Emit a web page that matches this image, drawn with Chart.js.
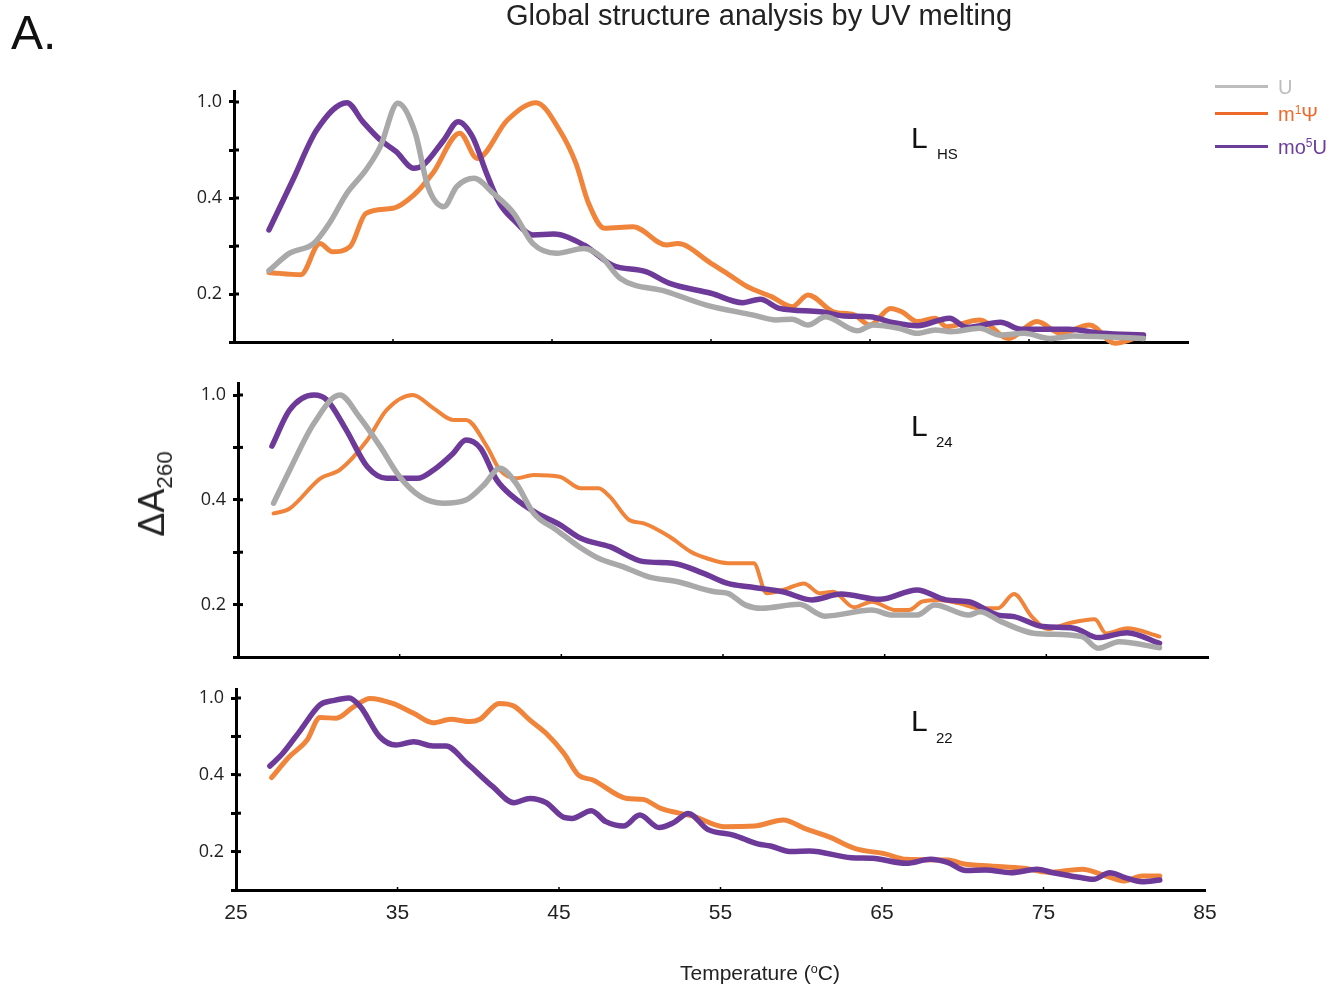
<!DOCTYPE html>
<html>
<head>
<meta charset="utf-8">
<script src="https://cdn.jsdelivr.net/npm/chart.js@4.4.1/dist/chart.umd.min.js"></script>
<style>
  body { margin: 0; background: #fff; }
  #page { position: relative; width: 1333px; height: 989px; overflow: hidden; font-family: "Liberation Sans", Arial, sans-serif; color: #222; }
  canvas { position: absolute; left: 0; top: 0; }
  .txt { position: absolute; line-height: 1; white-space: nowrap; }
  .sup { font-size: 0.6em; position: relative; top: -0.55em; }
  .sub { font-size: 0.62em; position: relative; top: 0.35em; }
  .key { position: absolute; left: 1215px; width: 53px; height: 3px; }
</style>
</head>
<body>
<div id="page">
  <canvas id="pHS" width="1333" height="989"></canvas>
  <canvas id="p24" width="1333" height="989"></canvas>
  <canvas id="p22" width="1333" height="989"></canvas>

  <div class="txt" style="left:11px;top:9px;font-size:48px;color:#111">A.</div>
  <div class="txt" style="left:506px;top:1px;font-size:29px">Global structure analysis by UV melting</div>

  <div class="txt" style="left:152px;top:494px;font-size:36px;transform:translate(-50%,-50%) rotate(-90deg)">ΔA<span class="sub">260</span></div>
  <div class="txt" style="left:680px;top:962px;font-size:21px">Temperature (<span class="sup">o</span>C)</div>

  <div class="txt" style="left:911px;top:123px;font-size:30px;color:#111">L</div>
  <div class="txt" style="left:937px;top:146px;font-size:15px;color:#111">HS</div>
  <div class="txt" style="left:911px;top:411px;font-size:30px;color:#111">L</div>
  <div class="txt" style="left:936px;top:434px;font-size:15px;color:#111">24</div>
  <div class="txt" style="left:911px;top:706px;font-size:30px;color:#111">L</div>
  <div class="txt" style="left:936px;top:730px;font-size:15px;color:#111">22</div>

  <div class="key" style="top:85px;background:#bdbdbd"></div>
  <div class="key" style="top:112px;background:#ee6a2a"></div>
  <div class="key" style="top:145px;background:#6c3e9a"></div>
  <div class="txt" style="left:1278px;top:77px;font-size:20px;color:#bdbdbd">U</div>
  <div class="txt" style="left:1278px;top:104px;font-size:20px;color:#ee6a2a">m<span class="sup">1</span>Ψ</div>
  <div class="txt" style="left:1278px;top:137px;font-size:20px;color:#6c3e9a">mo<span class="sup">5</span>U</div>
</div>
<script>
// temperature (°C), normalised ΔA260
const hsU = [[27.2,.297],[28.5,.37],[30.0,.41],[31.0,.495],[32.1,.62],[33.3,.717],[34.2,.814],[35.3,.995],[36.4,.87],[37.2,.647],
  [38.2,.564],[39.0,.647],[40.1,.682],[41.3,.62],[42.6,.536],[43.8,.41],[45.3,.37],[47.0,.39],[48.1,.355],[49.3,.265],
  [52.2,.21],[54.7,.154],[57.6,.113],[59.1,.092],[60.1,.095],[61.1,.071],[62.2,.105],[64.2,.047],[65.2,.071],[66.8,.057],
  [68.0,.036],[69.1,.05],[70.1,.043],[71.9,.057],[73.2,.029],[74.7,.036],[76.3,.015],[77.8,.025],[79.6,.022],[82.2,.015]];
const hsM1 = [[27.2,.29],[29.2,.28],[30.4,.41],[31.2,.376],[32.3,.397],[33.3,.536],[35.0,.557],[36.3,.612],[37.5,.703],[39.2,.87],
  [40.3,.765],[42.2,.925],[44.0,.997],[45.5,.88],[46.5,.745],[47.3,.578],[48.3,.474],[50.1,.48],[52.2,.404],[52.9,.41],
  [55.0,.328],[56.0,.286],[57.3,.23],[58.8,.189],[60.1,.147],[61.1,.196],[62.7,.126],[64.0,.113],[65.0,.071],[66.3,.14],
  [67.0,.126],[68.0,.085],[69.1,.099],[69.8,.064],[71.9,.092],[73.7,.015],[75.5,.085],[77.0,.036],[78.8,.071],[80.4,-.005],[82.2,.029]];
const hsMo5 = [[27.2,.467],[28.7,.675],[30.2,.883],[32.1,.997],[33.1,.918],[34.2,.842],[35.2,.793],[36.3,.724],[36.9,.737],[38.2,.842],
  [39.1,.918],[40.0,.855],[40.9,.70],[41.7,.578],[42.6,.508],[43.8,.446],[45.1,.45],[47.0,.404],[48.8,.32],[50.9,.293],
  [52.4,.244],[55.0,.203],[57.0,.164],[58.1,.178],[59.3,.14],[61.9,.126],[63.4,.108],[65.0,.105],[66.5,.08],[68.0,.068],
  [70.0,.099],[71.1,.061],[73.2,.082],[74.5,.053],[77.5,.053],[79.6,.036],[82.2,.029]];

const l24U = [[27.2,.587],[28.2,.714],[29.7,.892],[31.3,1.0],[32.5,.917],[33.8,.803],[35.0,.688],[36.3,.612],[37.7,.587],[39.1,.599],
  [40.2,.656],[41.2,.72],[42.2,.663],[43.3,.548],[44.7,.485],[46.1,.421],[47.3,.377],[48.8,.345],[50.4,.306],[52.2,.287],
  [54.5,.249],[55.3,.243],[56.4,.198],[57.4,.186],[59.7,.201],[61.3,.156],[64.2,.179],[65.5,.16],[67.0,.16],[68.1,.198],
  [70.2,.16],[70.9,.173],[72.2,.135],[74.3,.09],[77.2,.078],[78.2,.033],[79.5,.058],[82.0,.035]];
const l24M1 = [[27.2,.548],[28.2,.567],[30.1,.682],[31.3,.714],[33.0,.828],[34.2,.943],[35.8,1.0],[37.1,.949],[38.3,.905],[39.1,.905],
  [40.4,.803],[41.2,.714],[42.2,.682],[43.3,.695],[44.9,.688],[46.2,.644],[47.3,.644],[48.0,.612],[49.2,.523],[50.1,.51],
  [51.7,.459],[53.0,.402],[54.0,.377],[55.3,.358],[56.9,.358],[57.7,.243],[59.0,.262],[60.0,.281],[61.0,.243],[61.8,.249],
  [63.1,.19],[64.2,.211],[65.7,.179],[66.5,.179],[67.3,.211],[68.3,.218],[69.6,.205],[70.9,.186],[72.0,.186],[73.0,.24],
  [74.1,.154],[75.1,.106],[76.4,.129],[78.0,.144],[78.7,.09],[80.0,.11],[82.0,.078]];
const l24Mo5 = [[27.1,.805],[28.2,.943],[29.7,1.0],[30.5,.981],[31.7,.866],[33.0,.726],[34.2,.682],[36.1,.682],[37.1,.714],[38.3,.777],
  [39.1,.828],[40.0,.797],[41.0,.676],[42.0,.612],[43.5,.548],[44.9,.505],[46.2,.453],[48.0,.421],[50.1,.364],[51.9,.358],
  [53.8,.319],[55.3,.281],[56.6,.268],[58.7,.249],[60.5,.218],[62.3,.24],[64.7,.22],[67.0,.256],[68.8,.218],[70.2,.211],
  [72.0,.16],[73.0,.154],[74.8,.116],[76.7,.11],[78.2,.074],[80.0,.093],[82.0,.052]];

const l22M1 = [[27.2,.585],[28.3,.694],[29.4,.781],[30.2,.899],[31.2,.894],[32.3,.955],[33.3,.998],[34.7,.972],[36.0,.92],[37.2,.871],
  [38.3,.889],[39.5,.877],[40.1,.889],[41.3,.972],[42.2,.958],[43.2,.885],[44.2,.816],[45.3,.712],[46.2,.599],[47.1,.573],
  [49.2,.477],[50.2,.472],[51.3,.425],[53.4,.382],[55.2,.33],[57.1,.333],[58.9,.365],[60.2,.321],[61.8,.274],[63.3,.217],
  [65.2,.188],[66.5,.16],[69.1,.156],[70.1,.135],[71.7,.125],[73.8,.113],[75.3,.092],[77.4,.108],[78.7,.078],[80.0,.047],
  [81.1,.073],[82.2,.073]];
const l22Mo5 = [[27.1,.646],[27.9,.712],[29.0,.833],[30.2,.964],[31.0,.986],[32.0,1.0],[32.7,.955],[33.9,.798],[34.9,.755],[36.0,.772],
  [37.2,.75],[38.0,.75],[39.3,.66],[40.9,.538],[42.2,.455],[43.2,.477],[44.2,.455],[45.3,.378],[45.8,.373],[47.0,.413],
  [47.9,.356],[49.0,.333],[50.0,.39],[51.2,.325],[52.1,.351],[53.0,.399],[54.2,.316],[55.8,.286],[57.3,.24],[58.1,.229],
  [59.4,.2],[60.5,.203],[63.1,.168],[64.4,.165],[66.5,.139],[68.0,.16],[69.1,.142],[70.2,.101],[71.4,.104],[73.0,.09],
  [74.6,.108],[75.6,.09],[77.2,.066],[78.1,.056],[79.1,.09],[80.0,.066],[81.1,.043],[82.2,.052]];

const xTicks = [25, 35, 45, 55, 65, 75, 85];
const yTickValues = [0, 0.2, 0.4, 0.6, 0.8, 1.0];
const yTickLabels = ['', '0.2', '', '0.4', '', '1.0'];

const GRAY = '#a9a9a9', ORANGE = '#f0843a', PURPLE = '#6d3a99';
const Y_AXIS_W = 60, X_AXIS_H = 40, Y_MAX = 1.045;

// short marks on the inside of the axes
const innerTicks = {
  id: 'innerTicks',
  afterDraw(chart) {
    const ctx = chart.ctx, x = chart.scales.x, y = chart.scales.y;
    ctx.save();
    ctx.strokeStyle = '#000';
    ctx.lineWidth = 3;
    y.ticks.forEach(t => {
      if (t.value === 0) return;
      const py = y.getPixelForValue(t.value);
      ctx.beginPath(); ctx.moveTo(y.right, py); ctx.lineTo(y.right + 5, py); ctx.stroke();
    });
    ctx.lineWidth = 1.5;
    x.ticks.forEach(t => {
      if (t.value === 25 || t.value === 85) return;
      const px = x.getPixelForValue(t.value);
      ctx.beginPath(); ctx.moveTo(px, x.top); ctx.lineTo(px, x.top - 3); ctx.stroke();
    });
    ctx.restore();
  }
};

function makePanel(id, series, area, showX) {
  const top = area.bottom - Y_MAX * (area.bottom - area.one);
  new Chart(document.getElementById(id), {
    type: 'line',
    data: {
      datasets: series.map(s => ({
        label: s.label,
        data: s.points.map(p => ({ x: p[0], y: p[1] })),
        borderColor: s.color,
        borderWidth: s.width,
        pointRadius: 0,
        cubicInterpolationMode: 'monotone',
        borderCapStyle: 'round',
        borderJoinStyle: 'round',
        clip: false
      }))
    },
    options: {
      responsive: false,
      animation: false,
      events: [],
      layout: { padding: { left: area.left - Y_AXIS_W, right: 1333 - area.right, top: top, bottom: 989 - area.bottom - X_AXIS_H } },
      plugins: { legend: { display: false }, tooltip: { enabled: false } },
      scales: {
        x: {
          type: 'linear', min: 25, max: 85,
          afterFit: s => { s.height = X_AXIS_H; },
          afterBuildTicks: s => { s.ticks = xTicks.map(v => ({ value: v })); },
          grid: { display: false },
          border: { color: '#000', width: 3 },
          ticks: { display: showX, autoSkip: false, maxRotation: 0, padding: 3, color: '#222',
                   font: { family: 'Liberation Sans', size: 21 } }
        },
        y: {
          min: 0, max: Y_MAX,
          afterFit: s => { s.width = Y_AXIS_W; },
          afterBuildTicks: s => { s.ticks = yTickValues.map(v => ({ value: v })); },
          grid: { drawOnChartArea: false, tickLength: 5, tickWidth: 3, tickColor: '#000' },
          border: { color: '#000', width: 3 },
          ticks: { autoSkip: false, padding: 7, color: '#222', callback: (v, i) => yTickLabels[i],
                   font: { family: 'Open Sans', size: 18 } }
        }
      }
    },
    plugins: [innerTicks]
  });
}

makePanel('pHS', [
  { label: 'U', points: hsU, color: GRAY, width: 5.5 },
  { label: 'mo5U', points: hsMo5, color: PURPLE, width: 5.5 },
  { label: 'm1Ψ', points: hsM1, color: ORANGE, width: 5 }
], { left: 234, right: 1188, one: 102, bottom: 342 }, false);

makePanel('p24', [
  { label: 'U', points: l24U, color: GRAY, width: 5.5 },
  { label: 'mo5U', points: l24Mo5, color: PURPLE, width: 5.5 },
  { label: 'm1Ψ', points: l24M1, color: ORANGE, width: 4 }
], { left: 238, right: 1208, one: 395, bottom: 657 }, false);

makePanel('p22', [
  { label: 'mo5U', points: l22Mo5, color: PURPLE, width: 5.5 },
  { label: 'm1Ψ', points: l22M1, color: ORANGE, width: 5 }
], { left: 236, right: 1205, one: 698, bottom: 890 }, true);
</script>
</body>
</html>
